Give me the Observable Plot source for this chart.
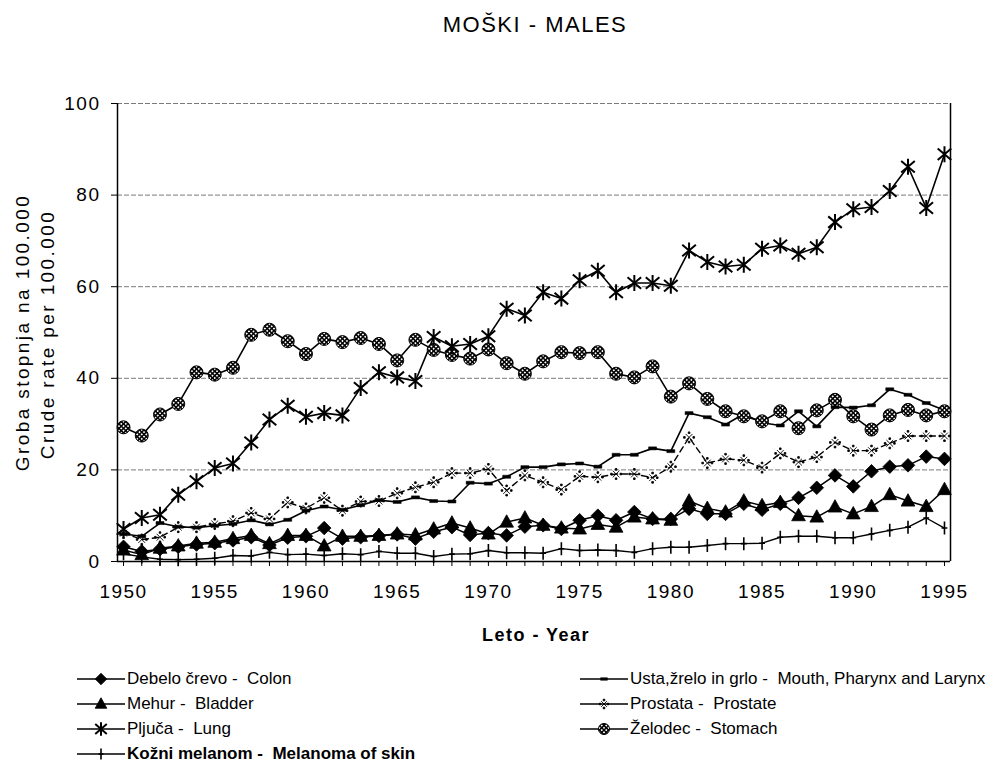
<!DOCTYPE html>
<html><head><meta charset="utf-8">
<script src="https://cdn.jsdelivr.net/npm/d3@7"></script>
<script src="https://cdn.jsdelivr.net/npm/@observablehq/plot@0.6"></script>
<style>
body{margin:0;background:#fff;font-family:"Liberation Sans",Arial,sans-serif;color:#000;}
#wrap{position:relative;width:995px;height:764px;overflow:hidden;background:#fff;}
#chart{position:absolute;left:0;top:0;}
.abs{position:absolute;white-space:pre;}
.title{left:385px;width:300px;top:14px;font-size:22px;line-height:22px;letter-spacing:1.5px;text-align:center;}
.ylab{width:320px;height:19px;font-size:19px;line-height:19px;letter-spacing:2.4px;text-align:center;transform:rotate(-90deg);}
.xlab{left:386px;width:300px;top:626px;font-size:18px;line-height:18px;font-weight:bold;letter-spacing:1.5px;text-align:center;}
.leg{display:flex;align-items:center;height:20px;font-size:17px;line-height:20px;}
.leg svg{flex:none;}
.leg span{margin-left:2px;white-space:pre;}
</style></head><body><div id="wrap"><div id="chart"></div></div>
<script>
// ---------- data ----------
const years = [1950,1951,1952,1953,1954,1955,1956,1957,1958,1959,
  1960,1961,1962,1963,1964,1965,1966,1967,1968,1969,
  1970,1971,1972,1973,1974,1975,1976,1977,1978,1979,
  1980,1981,1982,1983,1984,1985,1986,1987,1988,1989,
  1990,1991,1992,1993,1994,1995];
const xTickLabels = [1950,1955,1960,1965,1970,1975,1980,1985,1990,1995];
const yTickLabels = [0,20,40,60,80,100];

const colon = [3.2,2.2,2.7,3.2,3.7,4.0,4.6,5.3,3.6,5.2,
  5.5,7.3,5.0,5.3,5.6,5.9,5.0,6.5,7.5,5.8,
  6.2,5.7,7.6,7.9,7.1,9.0,10.0,9.0,10.8,9.3,
  9.3,11.5,10.4,10.4,12.6,11.3,12.6,13.9,16.1,18.8,
  16.4,19.7,20.7,21.0,22.9,22.4];
const bladder = [2.5,1.5,2.9,3.4,4.0,4.2,5.0,5.7,3.9,5.7,
  5.7,3.4,5.5,5.5,5.7,6.0,5.8,7.1,8.4,7.3,
  6.0,8.6,9.5,7.9,7.3,7.1,8.1,7.5,9.7,9.3,
  9.0,13.2,11.6,10.8,13.2,12.2,12.9,10.0,9.7,11.9,
  10.4,12.0,14.6,13.2,12.0,15.7];
const lung = [7.1,9.5,10.2,14.6,17.5,20.4,21.4,26.0,31.0,34.0,
  31.6,32.4,31.9,37.9,41.3,40.2,39.4,49.0,47.0,47.5,
  49.2,55.2,53.7,58.8,57.4,61.4,63.5,58.8,60.8,60.8,
  60.2,67.9,65.4,64.4,64.8,68.3,69.0,67.2,68.6,74.1,
  76.9,77.4,80.9,86.2,77.2,88.9];
const melanoma = [1.7,1.0,0.5,0.4,0.5,0.7,1.3,1.2,2.0,1.5,
  1.6,1.3,1.7,1.5,2.2,1.8,1.8,1.1,1.6,1.7,
  2.4,1.9,1.9,1.8,2.8,2.4,2.5,2.4,2.0,2.8,
  3.1,3.1,3.5,3.9,3.9,4.0,5.3,5.5,5.5,5.2,
  5.2,6.0,6.8,7.5,9.5,7.3];
const mouth = [6.0,5.5,8.4,7.6,7.4,7.8,8.2,9.0,8.1,9.1,
  11.1,12.0,11.3,12.3,13.4,13.0,14.0,13.2,13.1,17.2,
  17.0,18.5,20.6,20.6,21.2,21.4,20.7,23.3,23.3,24.7,
  24.1,32.4,31.5,29.9,32.2,30.3,29.7,32.8,29.5,33.7,
  33.6,34.1,37.6,36.4,34.6,33.0];
const prostate = [6.2,4.8,5.3,7.5,7.5,8.2,8.8,10.6,9.3,12.9,
  11.6,13.9,11.1,13.1,13.2,14.9,16.2,17.3,19.3,19.3,
  20.2,15.5,18.8,17.3,15.7,18.6,18.4,19.1,19.1,18.3,
  20.7,27.1,21.5,22.4,22.1,20.5,23.6,21.7,22.8,26.0,
  24.2,24.2,25.8,27.4,27.4,27.4];
const stomach = [29.3,27.5,32.1,34.4,41.3,40.8,42.3,49.5,50.6,48.1,
  45.3,48.6,47.9,48.8,47.5,43.9,48.4,46.2,45.1,44.3,
  46.3,43.3,41.0,43.7,45.7,45.5,45.7,41.0,40.2,42.6,
  36.0,38.9,35.5,32.8,31.7,30.6,32.8,29.1,33.0,35.3,
  31.7,28.8,31.9,33.1,31.9,32.8];

const titleText = "MOŠKI - MALES";
const yLabel1 = "Groba stopnja na 100.000";
const yLabel2 = "Crude rate per 100.000";
const xLabel = "Leto - Year";

// ---------- custom marker symbols ----------
const R = s => Math.sqrt(s / Math.PI);
const symDiamond = {draw(c, s){const r=R(s); c.moveTo(0,-r); c.lineTo(r,0); c.lineTo(0,r); c.lineTo(-r,0); c.closePath();}};
const symTriangle = {draw(c, s){const r=R(s); c.moveTo(0,-r*1.05); c.lineTo(r*0.98,r*0.72); c.lineTo(-r*0.98,r*0.72); c.closePath();}};
const symStar = {draw(c, s){const r=R(s); c.moveTo(0,-r); c.lineTo(0,r); const a=r*0.85,b=r*0.72; c.moveTo(-a,-b); c.lineTo(a,b); c.moveTo(-a,b); c.lineTo(a,-b);}};
const symPlus = {draw(c, s){const r=R(s); c.moveTo(0,-r); c.lineTo(0,r); c.moveTo(-r*0.45,0); c.lineTo(r*0.45,0);}};
const symBar = {draw(c, s){const r=R(s); c.rect(-r,-r*0.38,2*r,r*0.76);}};
const symKome = {draw(c, s){const r=R(s); const a=r*0.62;
  c.moveTo(-a,-a); c.lineTo(a,a); c.moveTo(-a,a); c.lineTo(a,-a);
  const d=r*0.85, q=0.8;
  c.rect(-q,-d-q,2*q,2*q); c.rect(-q,d-q,2*q,2*q); c.rect(-d-q,-q,2*q,2*q); c.rect(d-q,-q,2*q,2*q);}};
const symCircle = {draw(c, s){const r=R(s); c.moveTo(r,0); c.arc(0,0,r,0,2*Math.PI);}};

const series = [
  {key:"melanoma", vals:melanoma, sym:symPlus, r:6.5, fill:"none", sw:1.6, dash:null, lw:1.4,
   text:"Kožni melanom -  Melanoma of skin", bold:true, col:0, row:3},
  {key:"prostate", vals:prostate, sym:symKome, r:5.5, fill:"#000", sw:0.9, dash:"6,4", lw:1.4,
   text:"Prostata -  Prostate", col:1, row:1},
  {key:"mouth", vals:mouth, sym:symBar, r:4, fill:"#000", sw:0.5, dash:null, lw:1.6,
   text:"Usta,žrelo in grlo -  Mouth, Pharynx and Larynx", col:1, row:0},
  {key:"bladder", vals:bladder, sym:symTriangle, r:7, fill:"#000", sw:0.8, dash:null, lw:1.5,
   text:"Mehur -  Bladder", col:0, row:1},
  {key:"colon", vals:colon, sym:symDiamond, r:6.8, fill:"#000", sw:0.8, dash:null, lw:1.5,
   text:"Debelo črevo -  Colon", col:0, row:0},
  {key:"stomach", vals:stomach, sym:symCircle, r:6.5, fill:"url(#hatch)", sw:1, dash:null, lw:1.6,
   text:"Želodec -  Stomach", col:1, row:2},
  {key:"lung", vals:lung, sym:symStar, r:8, fill:"none", sw:2, dash:null, lw:1.6,
   text:"Pljuča -  Lung", col:0, row:2}
];
series.forEach(s => s.data = years.map((y,i) => ({year:y, v:s.vals[i]})));

const xDomain = [1949.67, 1995.33];
const marks = [
  Plot.ruleY(yTickLabels.filter(d => d > 0), {stroke:"#7a7a7a", strokeDasharray:"5,2", strokeWidth:1}),
  Plot.ruleX(xDomain, {stroke:"#000", strokeWidth:1.5}),
  Plot.ruleY([0], {stroke:"#000", strokeWidth:1.5}),
  Plot.axisY({ticks:yTickLabels, tickSize:6, tickPadding:11, label:null, tickFormat:d=>String(d)}),
  Plot.axisX({ticks:years, tickSize:5, label:null, tickFormat:()=>""}),
  Plot.axisX({ticks:xTickLabels, tickSize:0, tickPadding:23, label:null, tickFormat:d=>String(d)})
];
for (const s of series) {
  marks.push(Plot.line(s.data, {x:"year", y:"v", stroke:"#000", strokeWidth:s.lw, strokeDasharray:s.dash||undefined}));
}
for (const s of series) {
  marks.push(Plot.dot(s.data, {x:"year", y:"v", symbol:s.sym, r:s.r, fill:s.fill, stroke:"#000", strokeWidth:s.sw}));
}

const svg = Plot.plot({
  width: 995, height: 645,
  marginTop: 103, marginBottom: 84, marginLeft: 117, marginRight: 45,
  x: {domain: xDomain},
  y: {domain: [0, 100]},
  style: {fontFamily:"'Liberation Sans', Arial, sans-serif", fontSize:"19px", letterSpacing:"1.5px", color:"#000", background:"transparent", overflow:"visible"},
  marks
});
document.getElementById("chart").appendChild(svg);

function addHatch(svgEl){
  const defs = d3.select(svgEl).insert("defs", ":first-child");
  const p = defs.append("pattern").attr("id","hatch").attr("patternUnits","userSpaceOnUse")
    .attr("width",3.2).attr("height",3.2).attr("patternTransform","rotate(45)");
  p.append("rect").attr("width",3.2).attr("height",3.2).attr("fill","#fff");
  p.append("rect").attr("width",1.5).attr("height",3.2).attr("fill","#000");
  p.append("rect").attr("width",3.2).attr("height",1.5).attr("fill","#000");
}
addHatch(svg);

// ---------- text overlays ----------
const wrap = document.getElementById("wrap");
function addDiv(cls, text, style){ const d=document.createElement("div"); d.className="abs "+cls; d.textContent=text; Object.assign(d.style, style||{}); wrap.appendChild(d); return d; }
addDiv("title", titleText);
addDiv("ylab", yLabel1, {left:(22-160)+"px", top:(332-9.5)+"px"});
addDiv("ylab", yLabel2, {left:(47-160)+"px", top:(334-9.5)+"px"});
addDiv("xlab", xLabel);

// ---------- legend ----------
const colX = [[77,127],[580,632]];
const rowY = [679, 704, 729, 754];
for (const s of series) {
  const item = document.createElement("div");
  item.className = "abs leg";
  item.style.left = colX[s.col][0] + "px";
  item.style.top = (rowY[s.row] - 10) + "px";
  const sv = d3.create("svg").attr("width",48).attr("height",20);
  sv.append("line").attr("x1",0).attr("x2",48).attr("y1",10).attr("y2",10).attr("stroke","#000").attr("stroke-width",1.3);
  const pth = d3.path(); s.sym.draw(pth, Math.PI*(s.r*0.85)*(s.r*0.85));
  sv.append("path").attr("d", pth.toString()).attr("transform","translate(24,10)")
    .attr("fill", s.fill).attr("stroke","#000").attr("stroke-width", s.sw);
  item.appendChild(sv.node());
  const t = document.createElement("span"); t.textContent = s.text;
  if (s.bold) t.style.fontWeight = "bold";
  item.appendChild(t);
  wrap.appendChild(item);
}
</script></body></html>
